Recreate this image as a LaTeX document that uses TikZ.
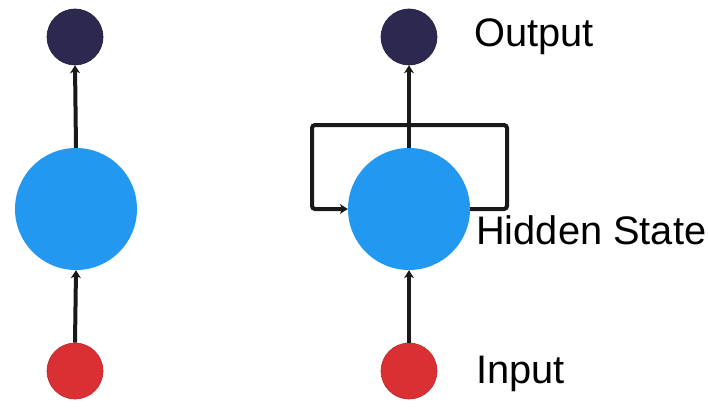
\documentclass[tikz,border=0pt]{standalone}
\usepackage{fontspec}
\setmainfont{Liberation Sans}
\usetikzlibrary{arrows.meta}
\definecolor{outc}{RGB}{45,40,80}
\definecolor{hidc}{RGB}{35,152,240}
\definecolor{inc}{RGB}{218,48,52}
\tikzset{
  outnode/.style={circle,fill=outc,draw=outc!80!black,line width=0.6pt,minimum size=56pt,inner sep=0pt},
  hidnode/.style={circle,fill=hidc,minimum size=122pt,inner sep=0pt},
  innode/.style={circle,fill=inc,draw=inc!85!black,line width=0.6pt,minimum size=56pt,inner sep=0pt},
  arr/.style={line width=4pt,draw=black!90,-{Stealth[length=8pt,width=10pt,inset=2.5pt]}},
  lbl/.style={anchor=base west,inner sep=0pt,font=\fontsize{39.8}{47}\selectfont}
}
\begin{document}
\begin{tikzpicture}[x=1pt,y=-1pt]
\useasboundingbox (0,0) rectangle (708,412);
\fill[white] (0,0) rectangle (708,412);
% left column
\node[outnode] (o1) at (75,37) {};
\node[hidnode] (h1) at (76,209) {};
\node[innode] (i1) at (75,371) {};
\draw[arr] (i1.north) -- (h1.south);
\draw[arr] (h1.north) -- (o1.south);
% right column
\node[outnode] (o2) at (409,37) {};
\node[hidnode] (h2) at (409,209) {};
\node[innode] (i2) at (409,371) {};
\coordinate (lr) at (507,125);
\coordinate (ll) at (312,125);
\draw[arr,rounded corners=3pt] (h2.east) -| (lr) -- (ll) |- (h2.west);
\draw[arr] (i2.north) -- (h2.south);
\draw[arr] (h2.north) -- (o2.south);
% labels
\node[lbl] (t1) at (474,46) {Output};
\node[lbl] (t2) at (476,244) {Hidden State};
\node[lbl] (t3) at (476,383) {Input};
\end{tikzpicture}
\end{document}
